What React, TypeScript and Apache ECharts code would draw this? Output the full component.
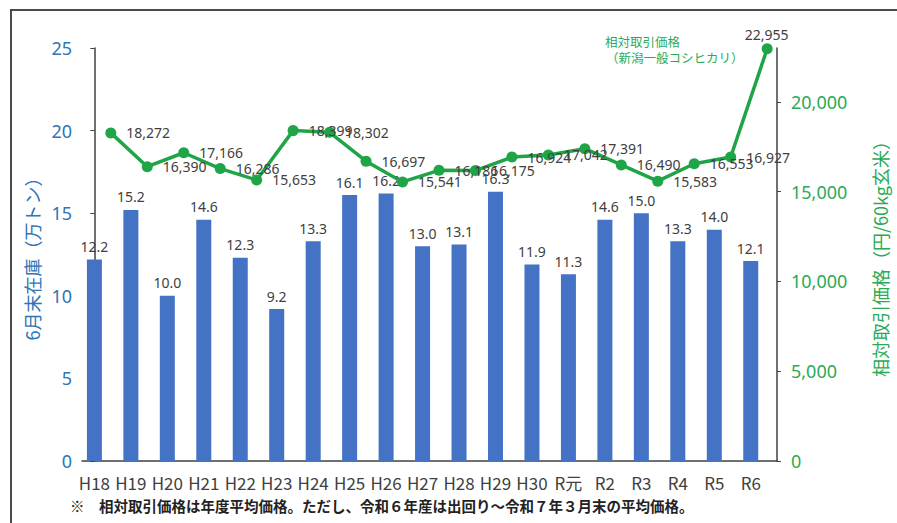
import React, { useEffect, useRef } from "react";
import * as echarts from "echarts";

const categories = ["H18","H19","H20","H21","H22","H23","H24","H25","H26","H27","H28","H29","H30","R元","R2","R3","R4","R5","R6"];
const stock = [12.2,15.2,10.0,14.6,12.3,9.2,13.3,16.1,16.2,13.0,13.1,16.3,11.9,11.3,14.6,15.0,13.3,14.0,12.1];
const price = [18272,16390,17166,16286,15653,18399,18302,16697,15541,16186,16175,16924,17042,17391,16490,15583,16553,16927,22955];
const leftTicks = [0,5,10,15,20,25];
const rightTicks = [0,5000,10000,15000,20000];

const BLUE_BAR = "#4472C4";
const BLUE_TXT = "#2E75B6";
const GREEN = "#1FA548";
const GREEN_TXT = "#2BAA55";
const NUM_FONT = "'Noto Sans', sans-serif";
const JP_FONT = "'Noto Sans CJK JP', sans-serif";

export default function App() {
  const ref = useRef<HTMLDivElement>(null);
  useEffect(() => {
    if (!ref.current) return;
    const chart = echarts.init(ref.current, undefined, { renderer: "svg" });
    const fmt = (v: number) => v.toLocaleString("en-US");
    chart.setOption({
      animation: false,
      backgroundColor: "#ffffff",
      grid: { left: 82, top: 48, right: 116, bottom: 62 },
      xAxis: [{
        type: "value",
        min: -0.34,
        max: 18.72,
        axisLine: { show: true, lineStyle: { color: "#404040", width: 1.5 } },
        axisTick: { show: false },
        splitLine: { show: false },
        axisLabel: {
          customValues: categories.map((_, i) => i),
          formatter: (v: number) => categories[Math.round(v)] ?? "",
          color: "#404040",
          fontSize: 17,
          fontFamily: "'Liberation Sans Narrow', 'Noto Sans CJK JP', sans-serif",
          margin: 13,
        },
      }],
      yAxis: [
        {
          type: "value",
          min: 0,
          max: 25,
          interval: 5,
          position: "left",
          name: "6月末在庫（万トン）",
          nameLocation: "middle",
          nameRotate: 90,
          nameGap: 40,
          nameTextStyle: { color: BLUE_TXT, fontSize: 18, fontFamily: JP_FONT },
          axisLine: { show: true, lineStyle: { color: "#404040", width: 1.5 } },
          axisTick: { show: true, length: 4, lineStyle: { color: "#404040" }, customValues: leftTicks },
          splitLine: { show: false },
          axisLabel: { color: BLUE_TXT, fontSize: 18, fontFamily: NUM_FONT, margin: 10, customValues: leftTicks },
        },
        {
          type: "value",
          min: 0,
          max: 23000,
          position: "right",
          name: "相対取引価格（円/60kg玄米）",
          nameLocation: "middle",
          nameRotate: 90,
          nameGap: 94,
          nameTextStyle: { color: GREEN_TXT, fontSize: 18, fontFamily: JP_FONT },
          axisLine: { show: true, lineStyle: { color: "#404040", width: 1.5 } },
          axisTick: { show: true, length: 4, lineStyle: { color: "#404040" }, customValues: rightTicks },
          splitLine: { show: false },
          axisLabel: {
            color: GREEN_TXT, fontSize: 18, fontFamily: NUM_FONT, margin: 14,
            customValues: rightTicks,
            formatter: (v: number) => fmt(v),
          },
        },
      ],
      series: [
        {
          type: "bar",
          xAxisIndex: 0,
          yAxisIndex: 0,
          barWidth: 15,
          itemStyle: { color: BLUE_BAR },
          data: stock.map((v, i) => [i, v]),
          label: {
            show: true,
            position: "top",
            distance: 6,
            color: "#404040",
            fontSize: 14,
            fontFamily: NUM_FONT,
            formatter: (p: any) => (p.value[1] as number).toFixed(1),
          },
          z: 2,
        },
        {
          type: "line",
          xAxisIndex: 0,
          yAxisIndex: 1,
          data: price.map((v, i) => [i + 0.45, v]),
          lineStyle: { color: GREEN, width: 3.5 },
          itemStyle: { color: GREEN },
          symbol: "circle",
          symbolSize: 11,
          label: {
            show: true,
            position: "right",
            distance: 10,
            color: "#404040",
            fontSize: 14,
            fontFamily: NUM_FONT,
            formatter: (p: any) => fmt(p.value[1] as number),
          },
          labelLayout: (p: any) => (p.dataIndex === price.length - 1 ? { dx: -38, dy: -14 } : {}),
          z: 3,
        },
      ],
      graphic: [
        {
          type: "rect",
          shape: { x: 11, y: 10, width: 900, height: 520 },
          style: { fill: "none", stroke: "#4a4a4a", lineWidth: 2 },
          silent: true,
        },
        {
          type: "text",
          x: 605,
          y: 35,
          style: { text: "相対取引価格", fill: GREEN_TXT, font: `12.5px ${JP_FONT}` },
        },
        {
          type: "text",
          x: 606,
          y: 51,
          style: { text: "（新潟一般コシヒカリ）", fill: GREEN_TXT, font: `12.5px ${JP_FONT}` },
        },
        {
          type: "text",
          x: 70,
          y: 498,
          style: {
            text: "※　相対取引価格は年度平均価格。ただし、令和６年産は出回り～令和７年３月末の平均価格。",
            fill: "#222222",
            font: `bold 14.5px ${JP_FONT}`,
          },
        },
      ],
    });
    return () => chart.dispose();
  }, []);
  return <div ref={ref} style={{ position: "fixed", left: 0, top: 0, width: 897, height: 523 }} />;
}
